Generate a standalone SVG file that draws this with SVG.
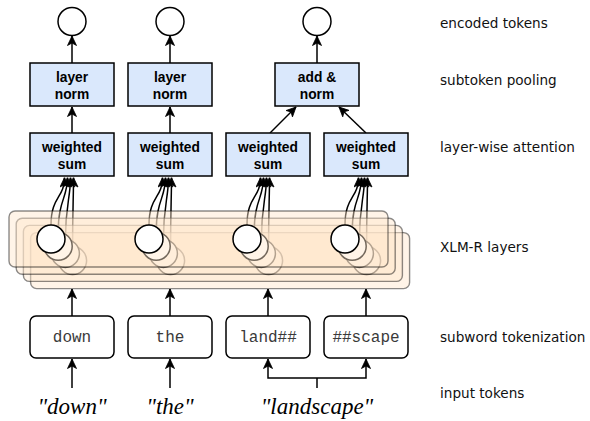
<svg xmlns="http://www.w3.org/2000/svg" width="590" height="421" viewBox="0 0 590 421">
<defs>
<marker id="arr" viewBox="-10 -5 10 10" refX="0" refY="0" markerWidth="10" markerHeight="10" markerUnits="userSpaceOnUse" orient="auto">
<path d="M0,0 L-9.5,-4.5 L-7,0 L-9.5,4.5 z" fill="#000" stroke="#000" stroke-width="0.8" stroke-linejoin="miter"/>
</marker>
</defs>
<style>
.box{fill:#dae8fc;stroke:#000;stroke-width:1.5}
.sub{fill:#fff;stroke:#000;stroke-width:1.5}
.enc{fill:#fff;stroke:#000;stroke-width:1.5}
.lay{fill:#ffe6cc;fill-opacity:0.45;stroke:#000;stroke-opacity:0.45;stroke-width:1.4}
.lc{fill:#fff;stroke:#000;stroke-width:1.5}
.bt{font-family:"Liberation Sans",Arial,sans-serif;font-weight:bold;font-size:13.8px;fill:#000;text-anchor:middle}
.mono{font-family:"Liberation Mono","Courier New",monospace;font-size:16px;fill:#3a3a3a;text-anchor:middle}
.inp{font-family:"Liberation Serif","Times New Roman",serif;font-style:italic;font-size:23px;fill:#000;text-anchor:middle}
.lbl{font-family:"DejaVu Sans",Verdana,sans-serif;font-size:13.6px;fill:#111}
.c{fill:none;stroke:#000;stroke-width:1.5;marker-end:url(#arr)}
.ln{fill:none;stroke:#000;stroke-width:1.5}
</style>
<rect width="590" height="421" fill="#fff"/>
<g id="connectors">
<path class="c" d="M72,63 V36"/>
<path class="c" d="M170,63 V36"/>
<path class="c" d="M317,63 V36"/>
<path class="c" d="M72,133 V107"/>
<path class="c" d="M170,133 V107"/>
<path class="c" d="M270,133 L296,107"/>
<path class="c" d="M366,133 L339,107"/>
<g id="attn-curves">
<g>
<path class="c" d="M51,225 C51,196 64.5,198 64.5,177.5"/>
<path class="c" d="M58.2,232.2 C58.2,200 67.5,198 67.5,177.5"/>
<path class="c" d="M65.4,239.4 C65.4,205 70.5,198 70.5,177.5"/>
<path class="c" d="M72.6,246.6 C72.6,210 73.5,198 73.5,177.5"/>
</g>
<g transform="translate(98,0)">
<path class="c" d="M51,225 C51,196 64.5,198 64.5,177.5"/>
<path class="c" d="M58.2,232.2 C58.2,200 67.5,198 67.5,177.5"/>
<path class="c" d="M65.4,239.4 C65.4,205 70.5,198 70.5,177.5"/>
<path class="c" d="M72.6,246.6 C72.6,210 73.5,198 73.5,177.5"/>
</g>
<g transform="translate(196,0)">
<path class="c" d="M51,225 C51,196 64.5,198 64.5,177.5"/>
<path class="c" d="M58.2,232.2 C58.2,200 67.5,198 67.5,177.5"/>
<path class="c" d="M65.4,239.4 C65.4,205 70.5,198 70.5,177.5"/>
<path class="c" d="M72.6,246.6 C72.6,210 73.5,198 73.5,177.5"/>
</g>
<g transform="translate(294,0)">
<path class="c" d="M51,225 C51,196 64.5,198 64.5,177.5"/>
<path class="c" d="M58.2,232.2 C58.2,200 67.5,198 67.5,177.5"/>
<path class="c" d="M65.4,239.4 C65.4,205 70.5,198 70.5,177.5"/>
<path class="c" d="M72.6,246.6 C72.6,210 73.5,198 73.5,177.5"/>
</g>
</g>
<path class="c" d="M72,316 V289"/>
<path class="c" d="M170,316 V289"/>
<path class="c" d="M268,316 V289"/>
<path class="c" d="M366,316 V289"/>
<path class="c" d="M72,388 V359"/>
<path class="c" d="M170,388 V359"/>
<path class="ln" d="M317,388 V378"/>
<path class="c" d="M317,378 H268 V359"/>
<path class="c" d="M317,378 H366 V359"/>
</g>
<g id="xlmr-layers">
<g id="layer-4" transform="translate(21.6,21.6)">
<rect class="lay" x="9" y="211" width="379" height="56" rx="6"/>
<circle class="lc" cx="51" cy="239" r="14"/><circle class="lc" cx="149" cy="239" r="14"/><circle class="lc" cx="247" cy="239" r="14"/><circle class="lc" cx="345" cy="239" r="14"/>
</g>
<g id="layer-3" transform="translate(14.4,14.4)">
<rect class="lay" x="9" y="211" width="379" height="56" rx="6"/>
<circle class="lc" cx="51" cy="239" r="14"/><circle class="lc" cx="149" cy="239" r="14"/><circle class="lc" cx="247" cy="239" r="14"/><circle class="lc" cx="345" cy="239" r="14"/>
</g>
<g id="layer-2" transform="translate(7.2,7.2)">
<rect class="lay" x="9" y="211" width="379" height="56" rx="6"/>
<circle class="lc" cx="51" cy="239" r="14"/><circle class="lc" cx="149" cy="239" r="14"/><circle class="lc" cx="247" cy="239" r="14"/><circle class="lc" cx="345" cy="239" r="14"/>
</g>
<g id="layer-1">
<rect class="lay" x="9" y="211" width="379" height="56" rx="6"/>
<circle class="lc" cx="51" cy="239" r="14"/><circle class="lc" cx="149" cy="239" r="14"/><circle class="lc" cx="247" cy="239" r="14"/><circle class="lc" cx="345" cy="239" r="14"/>
</g>
</g>
<g id="enc-1"><circle class="enc" cx="72" cy="21.5" r="14"/></g>
<g id="enc-2"><circle class="enc" cx="170" cy="21.5" r="14"/></g>
<g id="enc-3"><circle class="enc" cx="317" cy="21.5" r="14"/></g>
<g id="norm-1"><rect class="box" x="30" y="63" width="84" height="43"/><text class="bt" x="72" y="82">layer</text><text class="bt" x="72" y="98.5">norm</text></g>
<g id="norm-2"><rect class="box" x="128" y="63" width="84" height="43"/><text class="bt" x="170" y="82">layer</text><text class="bt" x="170" y="98.5">norm</text></g>
<g id="addnorm"><rect class="box" x="275" y="63" width="84" height="43"/><text class="bt" x="317" y="82">add &amp;</text><text class="bt" x="317" y="98.5">norm</text></g>
<g id="ws-1"><rect class="box" x="30" y="133" width="84" height="43"/><text class="bt" x="72" y="152">weighted</text><text class="bt" x="72" y="168.5">sum</text></g>
<g id="ws-2"><rect class="box" x="128" y="133" width="84" height="43"/><text class="bt" x="170" y="152">weighted</text><text class="bt" x="170" y="168.5">sum</text></g>
<g id="ws-3"><rect class="box" x="226" y="133" width="84" height="43"/><text class="bt" x="268" y="152">weighted</text><text class="bt" x="268" y="168.5">sum</text></g>
<g id="ws-4"><rect class="box" x="324" y="133" width="84" height="43"/><text class="bt" x="366" y="152">weighted</text><text class="bt" x="366" y="168.5">sum</text></g>
<g id="sw-1"><rect class="sub" x="30" y="316" width="84" height="42" rx="6"/><text class="mono" x="72" y="341.5">down</text></g>
<g id="sw-2"><rect class="sub" x="128" y="316" width="84" height="42" rx="6"/><text class="mono" x="170" y="341.5">the</text></g>
<g id="sw-3"><rect class="sub" x="226" y="316" width="84" height="42" rx="6"/><text class="mono" x="268" y="341.5">land##</text></g>
<g id="sw-4"><rect class="sub" x="324" y="316" width="84" height="42" rx="6"/><text class="mono" x="366" y="341.5">##scape</text></g>
<g id="in-1"><text class="inp" x="72" y="414">"down"</text></g>
<g id="in-2"><text class="inp" x="170" y="414">"the"</text></g>
<g id="in-3"><text class="inp" x="317" y="414">"landscape"</text></g>
<g id="labels">
<text class="lbl" x="440" y="28">encoded tokens</text>
<text class="lbl" x="440" y="85">subtoken pooling</text>
<text class="lbl" x="440" y="151.5">layer-wise attention</text>
<text class="lbl" x="440" y="251.5">XLM-R layers</text>
<text class="lbl" x="440" y="341.5">subword tokenization</text>
<text class="lbl" x="440" y="398">input tokens</text>
</g>
</svg>
